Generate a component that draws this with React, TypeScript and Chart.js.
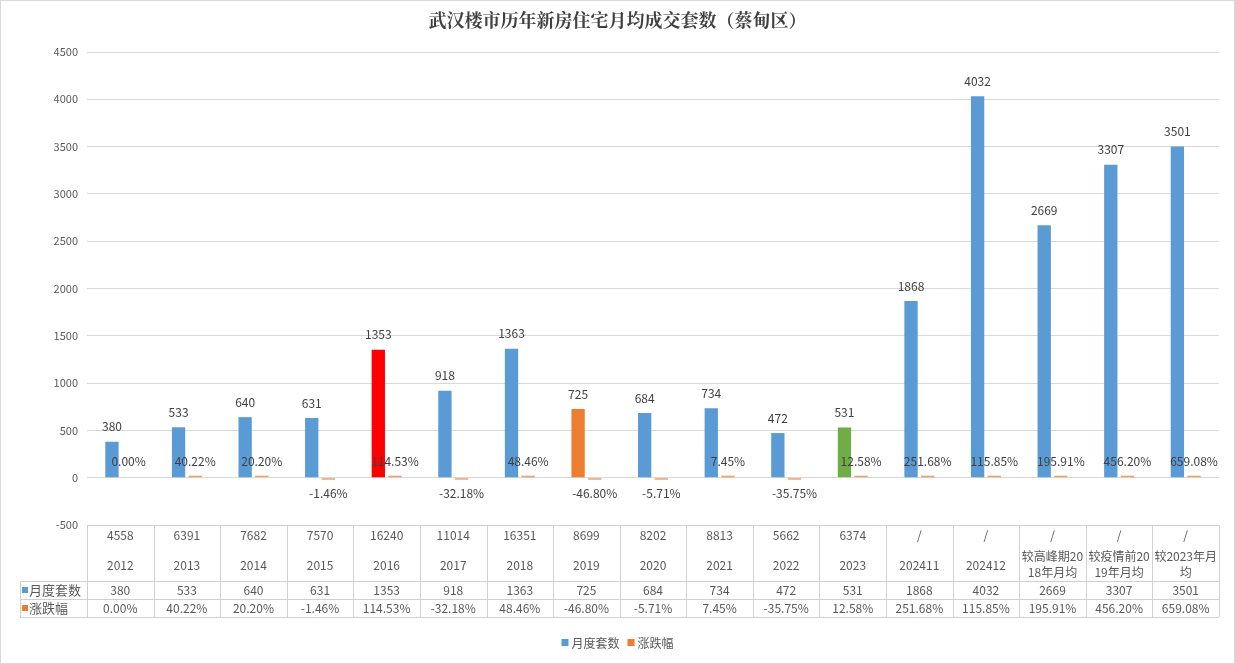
import React, { useEffect, useRef } from "react";
import { Chart, registerables } from "chart.js";

Chart.register(...registerables);

const titleText = "武汉楼市历年新房住宅月均成交套数（蔡甸区）";
const seriesNames = ["月度套数", "涨跌幅"];
const annualTotals = ["4558", "6391", "7682", "7570", "16240", "11014", "16351", "8699", "8202", "8813", "5662", "6374", "/", "/", "/", "/", "/"];
const periodLabels = [
  ["2012"], ["2013"], ["2014"], ["2015"], ["2016"], ["2017"], ["2018"], ["2019"],
  ["2020"], ["2021"], ["2022"], ["2023"], ["202411"], ["202412"],
  ["较高峰期20", "18年月均"], ["较疫情前20", "19年月均"], ["较2023年月", "均"],
];
const monthlyUnits = [380, 533, 640, 631, 1353, 918, 1363, 725, 684, 734, 472, 531, 1868, 4032, 2669, 3307, 3501];
const changeRates = [0, 0.4022, 0.202, -0.0146, 1.1453, -0.3218, 0.4846, -0.468, -0.0571, 0.0745, -0.3575, 0.1258, 2.5168, 1.1585, 1.9591, 4.562, 6.5908];
const yMin = -500;
const yMax = 4500;
const yStep = 500;

const BLUE = "#5B9BD5";
const ORANGE = "#ED7D31";
const barColors = monthlyUnits.map((_, i) => (i === 4 ? "#FF0000" : i === 7 ? ORANGE : i === 11 ? "#70AD47" : BLUE));

const FONT = '"Noto Sans CJK SC", "Noto Sans", sans-serif';
const pct = (v: number) => (v * 100).toFixed(2) + "%";

const overlayPlugin = {
  id: "overlay",
  afterDatasetsDraw(chart: any) {
    const ctx = chart.ctx;
    const y = chart.scales.y;
    const zeroY = y.getPixelForValue(0);
    ctx.save();
    ctx.textAlign = "center";
    ctx.textBaseline = "middle";
    ctx.font = `12px ${FONT}`;
    ctx.fillStyle = "#404040";
    const m0 = chart.getDatasetMeta(0);
    m0.data.forEach((el: any, i: number) => {
      ctx.fillText(String(monthlyUnits[i]), el.x, el.y - 15);
    });
    const m1 = chart.getDatasetMeta(1);
    m1.data.forEach((el: any, i: number) => {
      const v = changeRates[i];
      ctx.fillText(pct(v), el.x, v < 0 ? zeroY + 16 : zeroY - 16);
    });
    ctx.restore();
  },
  afterDraw(chart: any) {
    const ctx = chart.ctx;
    const area = chart.chartArea;
    const x = chart.scales.x;
    const n = monthlyUnits.length;
    const colW = (area.right - area.left) / n;
    const top = area.bottom;
    const r1 = top + 56;
    const r2 = r1 + 18;
    const r3 = r2 + 18;
    const labelLeft = 20;
    ctx.save();
    ctx.strokeStyle = "#D9D9D9";
    ctx.lineWidth = 1;
    ctx.strokeRect(0.5, 0.5, chart.width - 1, chart.height - 1);
    ctx.strokeStyle = "#D0D0D0";
    ctx.beginPath();
    ctx.moveTo(area.left, top + 0.5); ctx.lineTo(area.right, top + 0.5);
    [r1, r2, r3].forEach((yy) => { ctx.moveTo(labelLeft, yy + 0.5); ctx.lineTo(area.right, yy + 0.5); });
    ctx.moveTo(labelLeft + 0.5, r1); ctx.lineTo(labelLeft + 0.5, r3);
    for (let i = 0; i <= n; i++) {
      const xx = Math.round(area.left + i * colW) + 0.5;
      ctx.moveTo(xx, top); ctx.lineTo(xx, r3);
    }
    ctx.stroke();
    ctx.fillStyle = "#595959";
    ctx.textAlign = "center";
    ctx.textBaseline = "middle";
    ctx.font = `12px ${FONT}`;
    for (let i = 0; i < n; i++) {
      const cx = x.getPixelForValue(i);
      ctx.fillText(annualTotals[i], cx, top + 10);
      const lines = periodLabels[i];
      if (lines.length === 1) {
        ctx.fillText(lines[0], cx, top + 40);
      } else {
        ctx.fillText(lines[0], cx, top + 31);
        ctx.fillText(lines[1], cx, top + 47);
      }
      ctx.fillText(String(monthlyUnits[i]), cx, r1 + 9);
      ctx.fillText(pct(changeRates[i]), cx, r2 + 9);
    }
    ctx.textAlign = "left";
    ctx.font = `13px ${FONT}`;
    [[BLUE, seriesNames[0], r1], [ORANGE, seriesNames[1], r2]].forEach(([c, t, yy]: any) => {
      ctx.fillStyle = c;
      ctx.fillRect(labelLeft + 2, yy + 6, 6, 6);
      ctx.fillStyle = "#595959";
      ctx.fillText(t, labelLeft + 9, yy + 9.5);
    });
    ctx.textAlign = "center";
    ctx.fillStyle = "#404040";
    ctx.font = `bold 18px "Noto Serif CJK SC", "Noto Sans CJK SC", serif`;
    ctx.fillText(titleText, chart.width / 2, 20);
    ctx.font = `12px ${FONT}`;
    const items = [[BLUE, seriesNames[0]], [ORANGE, seriesNames[1]]];
    const box = 7, gap = 3, sep = 8;
    const widths = items.map(([, t]) => box + gap + ctx.measureText(t).width);
    const total = widths.reduce((a, b) => a + b, 0) + sep;
    let lx = chart.width / 2 - total / 2;
    const ly = 643;
    ctx.textAlign = "left";
    items.forEach(([c, t], k) => {
      ctx.fillStyle = c;
      ctx.fillRect(lx, ly - 4, box, box);
      ctx.fillStyle = "#595959";
      ctx.fillText(t, lx + box + gap, ly);
      lx += widths[k] + sep;
    });
    ctx.restore();
  },
};

export default function App() {
  const ref = useRef<HTMLCanvasElement | null>(null);
  useEffect(() => {
    if (!ref.current) return;
    const chart = new Chart(ref.current, {
      type: "bar",
      data: {
        labels: periodLabels.map((l) => l.join("")),
        datasets: [
          {
            label: seriesNames[0],
            data: monthlyUnits,
            backgroundColor: barColors,
            categoryPercentage: 0.5,
            barPercentage: 0.8,
          },
          {
            label: seriesNames[1],
            data: changeRates,
            backgroundColor: (c: any) => (c.raw === 0 ? "rgba(0,0,0,0)" : "rgba(237,125,49,0.75)"),
            categoryPercentage: 0.5,
            barPercentage: 0.8,
            minBarLength: 2,
          },
        ],
      },
      options: {
        animation: false,
        responsive: true,
        maintainAspectRatio: false,
        layout: { padding: { left: 0, right: 16, top: 52, bottom: 139 } },
        plugins: { legend: { display: false }, title: { display: false }, tooltip: { enabled: false } },
        scales: {
          x: { display: false },
          y: {
            min: yMin,
            max: yMax,
            afterFit: (s: any) => { s.width = 87; },
            ticks: {
              stepSize: yStep,
              color: "#595959",
              font: { family: FONT, size: 11 },
              padding: 9,
              callback: (v: any) => String(v),
            },
            grid: { color: "#D9D9D9", drawTicks: false },
            border: { display: false },
          },
        },
      },
      plugins: [overlayPlugin],
    });
    return () => chart.destroy();
  }, []);
  return (
    <div style={{ position: "absolute", left: 0, top: 0, width: 1235, height: 664, background: "#fff" }}>
      <canvas ref={ref} />
    </div>
  );
}
